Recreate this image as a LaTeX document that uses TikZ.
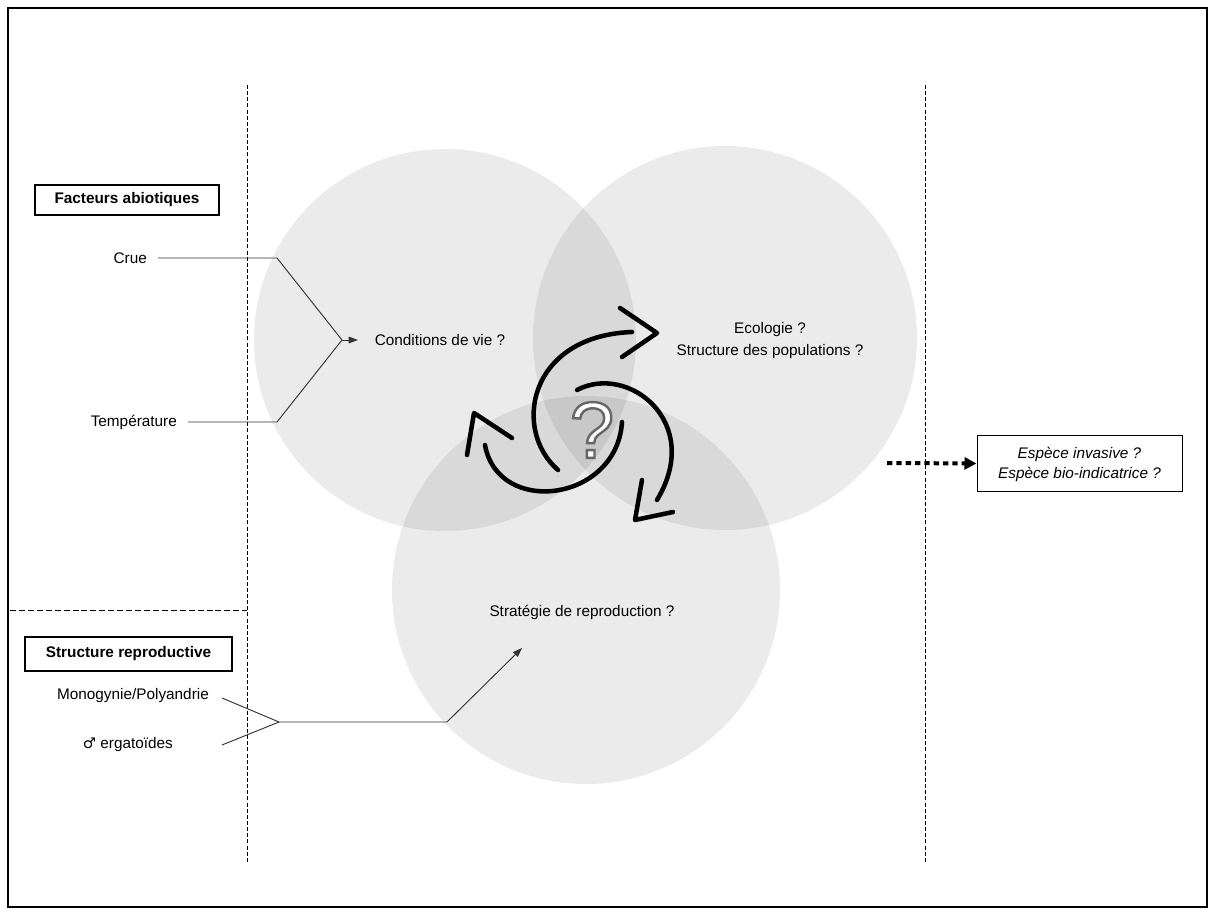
\documentclass[tikz,border=0pt]{standalone}
\usepackage{fontspec}
\setmainfont{Liberation Sans}
\newfontfamily\symfont{DejaVu Sans}
\usetikzlibrary{arrows.meta}

\tikzset{every picture/.style={line width=0.75pt}}
\tikzset{
  label/.style={inner sep=0.75pt, font=\fontsize{11.5}{16.5}\selectfont},
  factor/.style={label, inner xsep=8pt},
  titlebox/.style={draw, line width=0.9pt, inner sep=0pt, font=\fontsize{11.5}{14}\selectfont\bfseries},
  zone/.style={fill=black, fill opacity=0.08},
  sep/.style={dash pattern=on 3pt off 1.6pt, line width=0.6pt},
  link/.style={line width=0.7pt, color=black!80},
  cycle/.style={line width=3.4pt, line cap=round, line join=round}
}

\begin{document}
\begin{tikzpicture}[x=0.75pt,y=0.75pt,yscale=-1,xscale=1]
\useasboundingbox (0,0) rectangle (1215,916);

%Shape: Rectangle (frame)
\draw [line width=1.2pt] (8,8) rectangle (1207,907);

%Shape: Circles
\fill [zone] (445,340) circle [radius=191];
\fill [zone] (725,338) circle [radius=192];
\fill [zone] (586,590) circle [radius=194];

%Straight Lines (separators)
\draw [sep] (247,85) -- (247,862);
\draw [sep] (925,85) -- (925,862);
\draw [sep, dash pattern=on 4.5pt off 2.2pt] (10,610) -- (247,610);

% Text Node (titles)
\node [titlebox, minimum width=184*0.75pt, minimum height=30*0.75pt] (abio) at (127,200) {Facteurs abiotiques};
\node [titlebox, minimum width=207*0.75pt, minimum height=34*0.75pt] (repro) at (128.5,654) {Structure reproductive};

% Text Node (factors)
\node [factor, anchor=east] (crue) at (158,258) {Crue};
\node [factor, anchor=east] (temp) at (188,422) {Température};
\node [factor, anchor=east] (mono) at (220,696) {Monogynie/Polyandrie};
\node [factor, anchor=east] (ergo) at (184,745) {{\symfont\fontsize{11}{12}\selectfont ♂} ergatoïdes};

% Text Node (zones)
\node [label] (cond) at (440,340) {Conditions de vie ?};
\node [label, align=center] (eco) at (770,341) {Ecologie ?\\Structure des populations ?};
\node [label] (strat) at (582,612) {Stratégie de reproduction ?};
\node [draw, line width=0.75pt, align=center, minimum width=205*0.75pt, minimum height=56*0.75pt,
  font=\fontsize{11.5}{15}\selectfont\itshape] (inv) at (1079.5,464) {Espèce invasive ?\\Espèce bio-indicatrice ?};

% Question mark
\node (quest) at (592,430) {\fontsize{60}{60}\selectfont\textcolor{white}{\special{pdf:code 2 Tr 0.4 G 1.8 w}?\special{pdf:code 0 Tr 0 G}}};

%Straight Lines (abiotic factors)
\coordinate (crueK) at (277,258);
\coordinate (tempK) at (277,422);
\coordinate (abioJ) at (342,340);
\coordinate (condIn) at (358,340);
\draw [link] (crue) -- (crueK) -- (abioJ);
\draw [link] (temp) -- (tempK) -- (abioJ);
\draw [link, -{Triangle[length=7pt, width=5pt]}] (abioJ) -- (condIn);

%Straight Lines (reproductive structure)
\coordinate (monoS) at (222,698);
\coordinate (ergoS) at (222,745);
\coordinate (reproJ) at (279,722);
\coordinate (reproK) at (447,722);
\coordinate (stratIn) at (522,648);
\draw [link] (monoS) -- (reproJ);
\draw [link] (ergoS) -- (reproJ);
\draw [link, -{Triangle[length=7pt, width=5pt]}] (reproJ) -- (reproK) -- (stratIn);

%Dotted arrow
\coordinate (outS) at (887,463);
\draw [line width=3pt, dash pattern=on 4pt off 3pt, -{Triangle[length=9pt, width=9pt]}] (outS) -- (inv);

%Curves (cycle)
\draw [cycle] (558,470) .. controls (512,430) and (528,336) .. (632,332);
\draw [cycle] (620,308) -- (657,333) -- (622,357);
\draw [cycle] (577,390) .. controls (628,363) and (704,422) .. (657,500);
\draw [cycle] (642,480) -- (635,520) -- (673,512);
\draw [cycle] (622,422) .. controls (617,502) and (498,517) .. (485,445);
\draw [cycle] (467,455) -- (474,413) -- (512,438);

\end{tikzpicture}
\end{document}
